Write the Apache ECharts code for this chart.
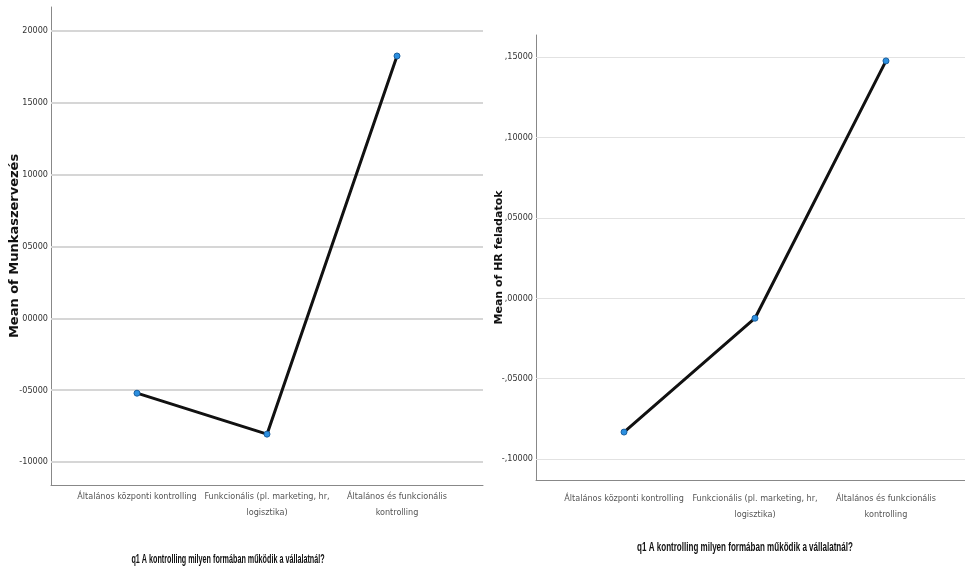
<!DOCTYPE html>
<html lang="hu">
<head>
<meta charset="UTF-8">
<title>Mean plots</title>
<style>
  *{ margin:0; padding:0; }
  body{ background:#fff; }
  #chart{ width:965px; height:570px; }
</style>
</head>
<body>
<div id="chart"></div>
<script src="https://cdn.jsdelivr.net/npm/echarts@6/dist/echarts.min.js"></script>
<script>
// categories (q1)
var leftCats = ['Általános központi kontrolling', 'Funkcionális (pl. marketing, hr,\nlogisztika)', 'Általános és funkcionális\nkontrolling'];
var rightCats = ['Általános központi kontrolling', 'Funkcionális (pl. marketing, hr,\nlogisztika)', 'Általános és funkcionális\nkontrolling'];

// means
var munkaszervezes = [-0.0521, -0.0806, 0.1826];
var hrFeladatok = [-0.0832, -0.0124, 0.1476];

// y ticks
var leftTicks = [-0.10, -0.05, 0, 0.05, 0.10, 0.15, 0.20];
var leftTickLabels = ['-10000', '-05000', '00000', '05000', '10000', '15000', '20000'];
var rightTicks = [-0.10, -0.05, 0, 0.05, 0.10, 0.15];
var rightTickLabels = ['-,10000', '-,05000', ',00000', ',05000', ',10000', ',15000'];

var xTitle = 'q1 A kontrolling milyen formában működik a vállalatnál?';

var chart = echarts.init(document.getElementById('chart'));

function pts(vals) {
  var out = [];
  for (var i = 0; i < vals.length; i++) out.push([i, vals[i]]);
  return out;
}

function grids(ticks, color, width) {
  return {
    silent: true,
    symbol: 'none',
    z: 1,
    label: { show: false },
    lineStyle: { color: color, width: width, type: 'solid' },
    emphasis: { disabled: true },
    data: ticks.map(function (t) { return { yAxis: t }; })
  };
}

var narrow = "'Liberation Sans Narrow', 'DejaVu Sans Condensed', 'Arial Narrow', 'Liberation Sans', sans-serif";

function xAxisFor(idx, cats, min, max, margin) {
  // blank labels at both ends so the three category labels are never min/max labels
  var vals = [min];
  for (var i = 0; i < cats.length; i++) vals.push(i);
  vals.push(max);
  return {
    gridIndex: idx,
    type: 'value',
    min: min,
    max: max,
    splitLine: { show: false },
    axisTick: { show: false },
    axisLine: { show: true, onZero: false, lineStyle: { color: '#888', width: 1 } },
    axisLabel: {
      customValues: vals,
      showMinLabel: true,
      showMaxLabel: true,
      hideOverlap: false,
      formatter: function (v) {
        var k = Math.round(v);
        return Math.abs(k - v) < 1e-9 && cats[k] ? cats[k] : '';
      },
      color: '#555',
      fontFamily: narrow,
      fontSize: 9,
      lineHeight: 16,
      margin: margin
    }
  };
}

function yAxisFor(idx, name, min, max, ticks, labels, gap, nameSize) {
  return {
    gridIndex: idx,
    type: 'value',
    min: min,
    max: max,
    name: name,
    nameLocation: 'middle',
    nameGap: gap,
    nameMoveOverlap: false,
    nameTextStyle: { fontFamily: "'DejaVu Sans', Verdana, sans-serif", fontWeight: 'bold', fontSize: nameSize, color: '#111' },
    splitLine: { show: false },
    axisTick: { show: false, customValues: ticks },
    axisLine: { show: true, onZero: false, lineStyle: { color: '#888', width: 1 } },
    axisLabel: {
      customValues: ticks,
      showMinLabel: true,
      showMaxLabel: true,
      formatter: function (v) {
        for (var i = 0; i < ticks.length; i++) {
          if (Math.abs(ticks[i] - v) < 1e-9) return labels[i];
        }
        return '';
      },
      color: '#333',
      fontFamily: narrow,
      fontSize: 9,
      margin: 3
    }
  };
}

chart.setOption({
  animation: false,
  grid: [
    { left: 51, top: 7, width: 432, height: 478, outerBoundsMode: 'none' },
    { left: 536, top: 35, width: 438, height: 445, outerBoundsMode: 'none' }
  ],
  xAxis: [
    xAxisFor(0, leftCats, -0.6615, 2.6615, 4),
    xAxisFor(1, rightCats, -0.672, 2.672, 11)
  ],
  yAxis: [
    yAxisFor(0, 'Mean of Munkaszervezés', -0.116, 0.2167, leftTicks, leftTickLabels, 30, 13),
    yAxisFor(1, 'Mean of HR feladatok', -0.113, 0.1637, rightTicks, rightTickLabels, 31, 11)
  ],
  graphic: [
    { type: 'text', x: 228, y: 560, scaleX: 0.6, style: { text: xTitle, align: 'center', verticalAlign: 'middle', font: "bold 12px 'Liberation Sans', Arial, sans-serif", fill: '#111' } },
    { type: 'text', x: 745, y: 548, scaleX: 0.67, style: { text: xTitle, align: 'center', verticalAlign: 'middle', font: "bold 12px 'Liberation Sans', Arial, sans-serif", fill: '#111' } }
  ],
  series: [
    {
      type: 'line',
      xAxisIndex: 0,
      yAxisIndex: 0,
      data: pts(munkaszervezes),
      symbol: 'circle',
      symbolSize: 6,
      z: 3,
      lineStyle: { color: '#111', width: 3 },
      itemStyle: { color: '#2b8fe0', borderColor: '#1a5f9e', borderWidth: 1 },
      markLine: grids(leftTicks, '#d6d6d6', 2)
    },
    {
      type: 'line',
      xAxisIndex: 1,
      yAxisIndex: 1,
      data: pts(hrFeladatok),
      symbol: 'circle',
      symbolSize: 6,
      z: 3,
      lineStyle: { color: '#111', width: 3 },
      itemStyle: { color: '#2b8fe0', borderColor: '#1a5f9e', borderWidth: 1 },
      markLine: grids(rightTicks, '#e2e2e2', 1)
    }
  ]
});
</script>
</body>
</html>
